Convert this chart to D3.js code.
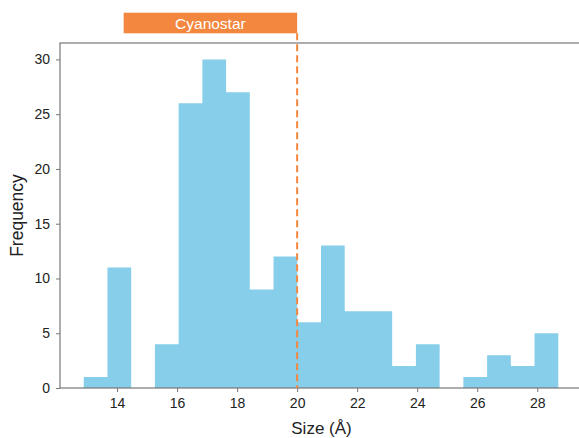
<!DOCTYPE html>
<html>
<head>
<meta charset="utf-8">
<script src="https://cdn.jsdelivr.net/npm/d3@7"></script>
<style>
  body { margin: 0; background: #fff; }
  svg { display: block; font-family: "Liberation Sans", Arial, sans-serif; }
</style>
</head>
<body>
<svg id="chart"></svg>
<script>
// histogram: 20 bins between min and max size
let binStart = 12.89;
let binEnd = 28.70;
let counts = [1, 11, 0, 4, 26, 30, 27, 9, 12, 6, 13, 7, 7, 2, 4, 0, 1, 3, 2, 5];
let xTicks = [14, 16, 18, 20, 22, 24, 26, 28];
let yTicks = [0, 5, 10, 15, 20, 25, 30];
let markerValue = 20;
let markerLabel = "Cyanostar";
let markerFrom = 14.22;

let width = 579, height = 438;
let margin = {left: 60, top: 43, right: -3, bottom: 50};

let svg = d3.select("#chart").attr("width", width).attr("height", height);

let binW = (binEnd - binStart) / counts.length;
let pad = (binEnd - binStart) * 0.05;

let x = d3.scaleLinear()
    .domain([binStart - pad, binEnd + pad])
    .range([margin.left, width - margin.right]);
let y = d3.scaleLinear()
    .domain([0, d3.max(counts) * 1.05])
    .range([height - margin.bottom, margin.top]);

// столбцы — одним контуром, чтобы не было швов между соседними
let barPath = d3.path();
counts.forEach((d, i) => {
    if (d === 0) return;
    let x0 = x(binStart + i * binW), x1 = x(binStart + (i + 1) * binW);
    barPath.rect(x0, y(d), x1 - x0, y(0) - y(d));
});
svg.append("path")
    .attr("d", barPath.toString())
    .attr("fill", "#87ceeb")
    .attr("fill-rule", "nonzero");

// рамка
svg.append("rect")
    .attr("x", x.range()[0])
    .attr("y", y.range()[1])
    .attr("width", x.range()[1] - x.range()[0])
    .attr("height", y.range()[0] - y.range()[1])
    .attr("fill", "none")
    .attr("stroke", "#777")
    .attr("stroke-width", 1.2);

// оси
let axisX = svg.append("g")
    .attr("transform", `translate(0, ${y(0)})`)
    .call(d3.axisBottom(x).tickValues(xTicks).tickSize(4).tickPadding(6));
let axisY = svg.append("g")
    .attr("transform", `translate(${x.range()[0]}, 0)`)
    .call(d3.axisLeft(y).tickValues(yTicks).tickSize(4).tickPadding(6));

[axisX, axisY].forEach(g => {
    g.select(".domain").remove();
    g.selectAll(".tick line").attr("stroke", "#777");
    g.selectAll(".tick text").attr("fill", "#222").style("font-size", "14px");
});

// пунктирная линия и подпись
let bandTop = 12.7, bandH = 20.6;
svg.append("line")
    .attr("x1", x(markerValue)).attr("x2", x(markerValue))
    .attr("y1", bandTop + bandH).attr("y2", y(0))
    .attr("stroke", "#f4873f")
    .attr("stroke-width", 2)
    .attr("stroke-dasharray", "7,4");

svg.append("rect")
    .attr("x", x(markerFrom))
    .attr("y", bandTop)
    .attr("width", x(markerValue) - x(markerFrom))
    .attr("height", bandH)
    .attr("fill", "#f4873f");

svg.append("text")
    .attr("x", (x(markerFrom) + x(markerValue)) / 2)
    .attr("y", bandTop + bandH / 2 + 5.5)
    .attr("text-anchor", "middle")
    .attr("fill", "#fff")
    .style("font-size", "15.5px")
    .text(markerLabel);

// подписи осей
svg.append("text")
    .attr("x", (x.range()[0] + 579) / 2 + 2)
    .attr("y", 434)
    .attr("text-anchor", "middle")
    .attr("fill", "#222")
    .style("font-size", "17px")
    .text("Size (Å)");

svg.append("text")
    .attr("transform", `translate(23, ${(y.range()[0] + y.range()[1]) / 2}) rotate(-90)`)
    .attr("text-anchor", "middle")
    .attr("fill", "#222")
    .style("font-size", "17.5px")
    .text("Frequency");
</script>
</body>
</html>
